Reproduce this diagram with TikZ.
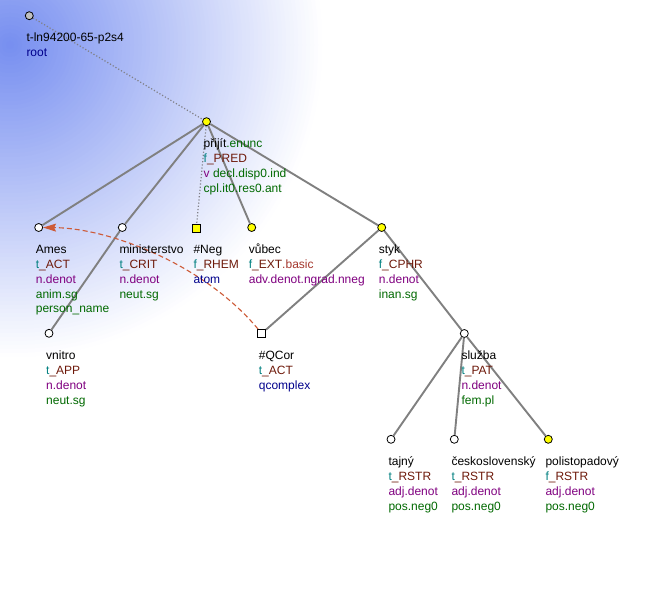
\documentclass[tikz,border=0pt]{standalone}
\usepackage{fontspec}
\setmainfont{Liberation Sans}
\usetikzlibrary{arrows.meta}
\definecolor{ctea}{RGB}{0,128,128}
\definecolor{cfun}{RGB}{110,25,10}
\definecolor{cpur}{RGB}{128,0,128}
\definecolor{cgrn}{RGB}{0,105,0}
\definecolor{cnav}{RGB}{0,0,140}
\definecolor{cbas}{RGB}{165,55,45}
\definecolor{cedge}{RGB}{128,128,128}
\definecolor{cdot}{RGB}{128,128,135}
\definecolor{carr}{RGB}{205,90,55}
\definecolor{cgrad}{RGB}{118,142,240}
\definecolor{cyel}{RGB}{255,255,0}
\definecolor{croot}{RGB}{192,192,192}
\newcommand\tlines[1]{\begin{tabular}[t]{@{}l@{}}#1\end{tabular}}
\newcommand\fn[2]{\textcolor{ctea}{#1}\textcolor{cfun}{\_#2}}
\begin{document}
\begin{tikzpicture}[x=1pt,y=-1pt,
  tnode/.style={circle,draw=black,line width=0.8pt,minimum size=8pt,inner sep=0pt,fill=white},
  ynode/.style={tnode,fill=cyel},
  rnode/.style={tnode,fill=croot},
  sqnode/.style={rectangle,draw=black,line width=0.8pt,minimum size=8pt,inner sep=0pt,fill=white},
  ysqnode/.style={sqnode,fill=cyel},
  edge/.style={draw=cedge,line width=1.9pt},
  dotedge/.style={draw=cdot,line width=1.2pt,dash pattern=on 1.2pt off 2pt},
  coref/.style={draw=carr,line width=1.1pt,dash pattern=on 5pt off 3pt,-{Stealth[length=13pt,width=8pt,inset=2pt]}},
  lab/.style={anchor=base west,inner sep=0pt,font=\fontsize{12}{14.8}\selectfont},
]
\useasboundingbox (0,0) rectangle (645,593);
\fill[white] (0,0) rectangle (645,593);
\begin{scope}
\clip (0,0) rectangle (645,593);
\foreach \r in {312,308,...,4}{
  \pgfmathsetmacro\pp{100*(1-\r/315)}
  \fill[cgrad!\pp!white] (10,45) circle (\r);
}
\end{scope}

% tree nodes
\node[rnode] (root) at (29.3,15.7) {};
\node[ynode] (prijit) at (206.5,121.7) {};
\node[tnode] (ames) at (38.7,227.5) {};
\node[tnode] (minist) at (122.3,227.5) {};
\node[ysqnode] (neg) at (196.3,228) {};
\node[ynode] (vubec) at (251.7,227.5) {};
\node[ynode] (styk) at (381.7,227.5) {};
\node[tnode] (vnitro) at (49,333.3) {};
\node[sqnode] (qcor) at (261.7,333.5) {};
\node[tnode] (sluzba) at (464.3,333.5) {};
\node[tnode] (tajny) at (391,439.3) {};
\node[tnode] (cesk) at (454.3,439.3) {};
\node[ynode] (polist) at (548.3,439.3) {};

% edges
\draw[dotedge] (root) -- (prijit);
\draw[dotedge] (prijit) -- (neg);
\draw[edge] (prijit) -- (ames);
\draw[edge] (prijit) -- (minist);
\draw[edge] (prijit) -- (vubec);
\draw[edge] (prijit) -- (styk);
\draw[edge] (minist) -- (vnitro);
\draw[edge] (styk) -- (qcor);
\draw[edge] (styk) -- (sluzba);
\draw[edge] (sluzba) -- (tajny);
\draw[edge] (sluzba) -- (cesk);
\draw[edge] (sluzba) -- (polist);
\draw[coref] (qcor) .. controls (205,265) and (110,228) .. (ames);

% labels
\node[lab] (l-root) at (26.3,42) {\tlines{t-ln94200-65-p2s4\\ \textcolor{cnav}{root}}};
\node[lab] (l-prijit) at (203.5,148) {\tlines{přijít\textcolor{cgrn}{.enunc}\\ \fn{f}{PRED}\\ \textcolor{cpur}{v} \textcolor{cgrn}{decl.disp0.ind}\\ \textcolor{cgrn}{cpl.it0.res0.ant}}};
\node[lab] (l-ames) at (35.7,253.8) {\tlines{Ames\\ \fn{t}{ACT}\\ \textcolor{cpur}{n.denot}\\ \textcolor{cgrn}{anim.sg}\\ \textcolor{cgrn}{person\_name}}};
\node[lab] (l-minist) at (119.3,253.8) {\tlines{ministerstvo\\ \fn{t}{CRIT}\\ \textcolor{cpur}{n.denot}\\ \textcolor{cgrn}{neut.sg}}};
\node[lab] (l-neg) at (193.3,253.8) {\tlines{\#Neg\\ \fn{f}{RHEM}\\ \textcolor{cnav}{atom}}};
\node[lab] (l-vubec) at (248.7,253.8) {\tlines{vůbec\\ \fn{f}{EXT}\textcolor{cbas}{.basic}\\ \textcolor{cpur}{adv.denot.ngrad.nneg}}};
\node[lab] (l-styk) at (378.7,253.8) {\tlines{styk\\ \fn{f}{CPHR}\\ \textcolor{cpur}{n.denot}\\ \textcolor{cgrn}{inan.sg}}};
\node[lab] (l-vnitro) at (46,359.8) {\tlines{vnitro\\ \fn{t}{APP}\\ \textcolor{cpur}{n.denot}\\ \textcolor{cgrn}{neut.sg}}};
\node[lab] (l-qcor) at (258.7,359.8) {\tlines{\#QCor\\ \fn{t}{ACT}\\ \textcolor{cnav}{qcomplex}}};
\node[lab] (l-sluzba) at (461.3,359.8) {\tlines{služba\\ \fn{t}{PAT}\\ \textcolor{cpur}{n.denot}\\ \textcolor{cgrn}{fem.pl}}};
\node[lab] (l-tajny) at (388.3,465.8) {\tlines{tajný\\ \fn{t}{RSTR}\\ \textcolor{cpur}{adj.denot}\\ \textcolor{cgrn}{pos.neg0}}};
\node[lab] (l-cesk) at (451.3,465.8) {\tlines{československý\\ \fn{t}{RSTR}\\ \textcolor{cpur}{adj.denot}\\ \textcolor{cgrn}{pos.neg0}}};
\node[lab] (l-polist) at (545.3,465.8) {\tlines{polistopadový\\ \fn{f}{RSTR}\\ \textcolor{cpur}{adj.denot}\\ \textcolor{cgrn}{pos.neg0}}};
\end{tikzpicture}
\end{document}
